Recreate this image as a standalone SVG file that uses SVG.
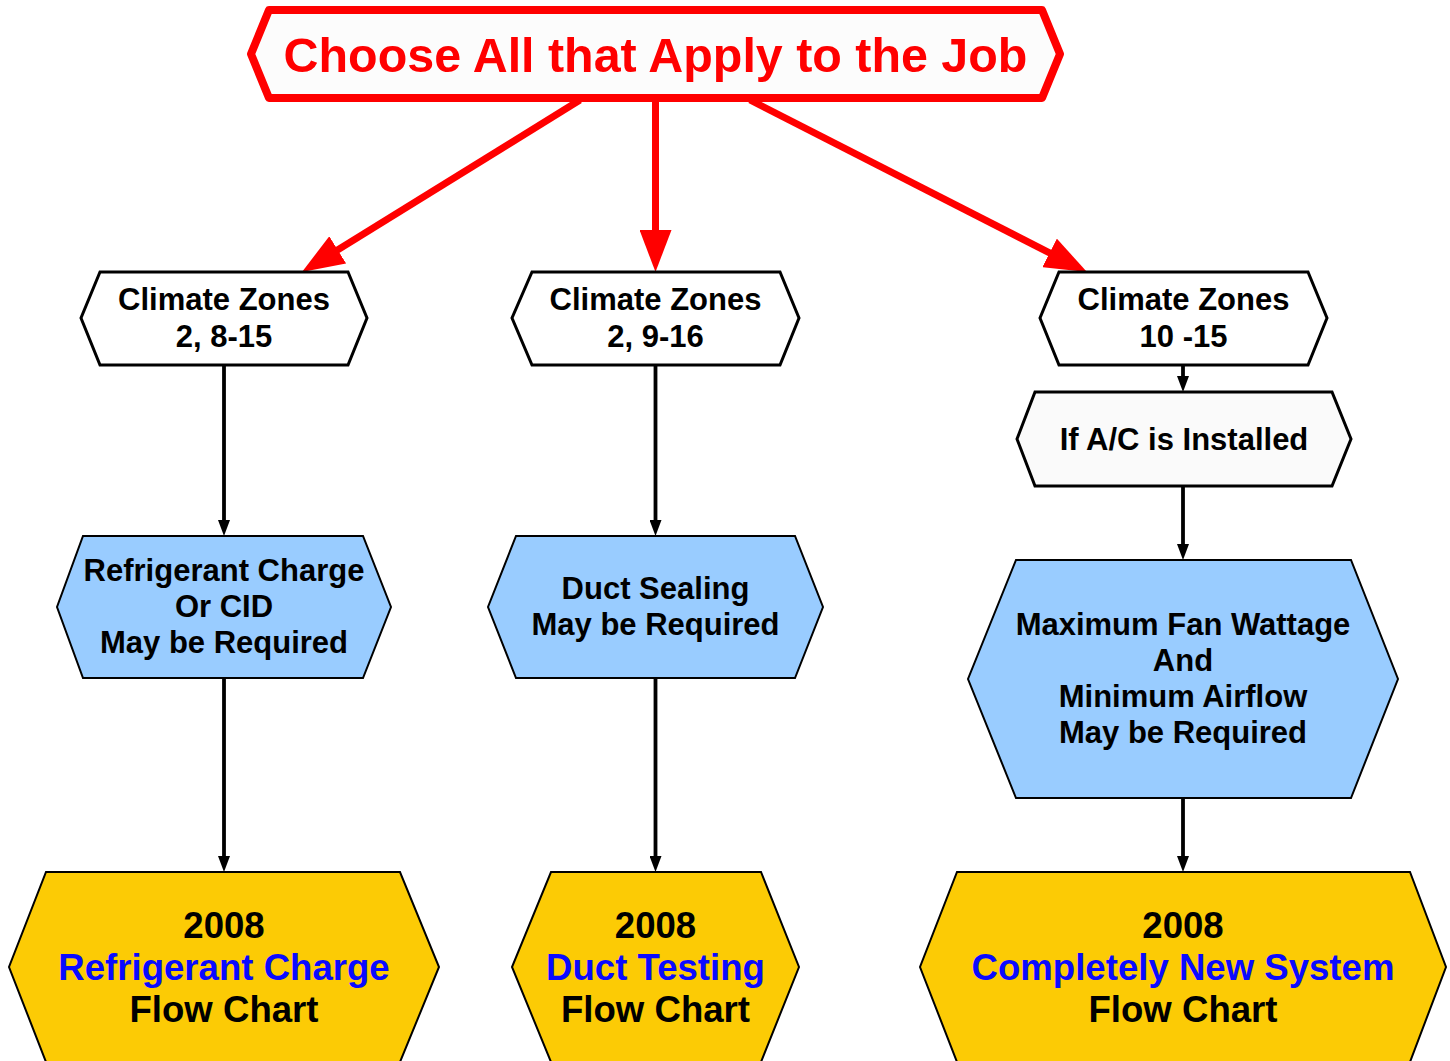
<svg xmlns="http://www.w3.org/2000/svg" width="1450" height="1061" viewBox="0 0 1450 1061">
<defs>
<style>
.t{font-family:"Liberation Sans",Arial,Helvetica,sans-serif;font-weight:bold;text-anchor:middle}
.s{font-size:31px;fill:#000}
.y{font-size:36.6px;fill:#000}
.b{fill:#0a0aff}
.w{fill:#fff;stroke:#000;stroke-width:3;stroke-linejoin:miter}
.g{fill:#fafafa;stroke:#000;stroke-width:3}
.bl{fill:#99ccff;stroke:#000;stroke-width:2}
.ye{fill:#fccb05;stroke:#000;stroke-width:2}
.rc{stroke:#ff0000;stroke-width:7;fill:none}
.kc{stroke:#000;stroke-width:3.8;fill:none}
</style>
<marker id="ra" viewBox="0 0 42 32" markerWidth="42" markerHeight="32" refX="20" refY="16" orient="auto" markerUnits="userSpaceOnUse">
<path d="M0,0 L42,16 L0,32 z" fill="#ff0000"/>
</marker>
<marker id="ka" viewBox="0 0 16 12" markerWidth="16" markerHeight="12" refX="8" refY="6" orient="auto" markerUnits="userSpaceOnUse">
<path d="M0,0 L16,6 L0,12 z" fill="#000"/>
</marker>
</defs>
<rect width="1450" height="1061" fill="#fff"/>

<g id="connectors">
<line class="rc" x1="580" y1="100" x2="320.7" y2="260.4" marker-end="url(#ra)"/>
<line class="rc" x1="655.5" y1="100" x2="655.5" y2="250" marker-end="url(#ra)"/>
<line class="rc" x1="750" y1="100" x2="1067.4" y2="262" marker-end="url(#ra)"/>
<line class="kc" x1="224" y1="365" x2="224" y2="528" marker-end="url(#ka)"/>
<line class="kc" x1="224" y1="678" x2="224" y2="864" marker-end="url(#ka)"/>
<line class="kc" x1="655.5" y1="365" x2="655.5" y2="528" marker-end="url(#ka)"/>
<line class="kc" x1="655.5" y1="678" x2="655.5" y2="864" marker-end="url(#ka)"/>
<line class="kc" x1="1183" y1="365" x2="1183" y2="384" marker-end="url(#ka)"/>
<line class="kc" x1="1183" y1="486" x2="1183" y2="552" marker-end="url(#ka)"/>
<line class="kc" x1="1183" y1="798" x2="1183" y2="864" marker-end="url(#ka)"/>
</g>

<g id="top">
<polygon points="269,10 1042,10 1060,54 1042,98 269,98 251,54" fill="#fcfcfc" stroke="#ff0000" stroke-width="8" stroke-linejoin="round"/>
<text class="t" x="655.5" y="72" font-size="48.4" fill="#ff0000">Choose All that Apply to the Job</text>
</g>

<g id="cz1">
<polygon class="w" points="100,272 348,272 367,318 348,365 100,365 81,318"/>
<text class="t s" x="224" y="310">Climate Zones</text>
<text class="t s" x="224" y="347">2, 8-15</text>
</g>
<g id="cz2">
<polygon class="w" points="532,272 780,272 799,318 780,365 532,365 512,318"/>
<text class="t s" x="655.5" y="310">Climate Zones</text>
<text class="t s" x="655.5" y="347">2, 9-16</text>
</g>
<g id="cz3">
<polygon class="w" points="1059,272 1308,272 1327,318 1308,365 1059,365 1040,318"/>
<text class="t s" x="1183.5" y="310">Climate Zones</text>
<text class="t s" x="1183.5" y="347">10 -15</text>
</g>
<g id="ifac">
<polygon class="g" points="1035,392 1332,392 1351,439 1332,486 1035,486 1017,439"/>
<text class="t s" x="1184" y="450">If A/C is Installed</text>
</g>

<g id="req1">
<polygon class="bl" points="83,536 363,536 391,607 363,678 83,678 57,607"/>
<text class="t s" x="224" y="581">Refrigerant Charge</text>
<text class="t s" x="224" y="617">Or CID</text>
<text class="t s" x="224" y="653">May be Required</text>
</g>
<g id="req2">
<polygon class="bl" points="516,536 795,536 823,607 795,678 516,678 488,607"/>
<text class="t s" x="655.5" y="599">Duct Sealing</text>
<text class="t s" x="655.5" y="635">May be Required</text>
</g>
<g id="req3">
<polygon class="bl" points="1016,560 1351,560 1398,679 1351,798 1016,798 968,679"/>
<text class="t s" x="1183" y="635">Maximum Fan Wattage</text>
<text class="t s" x="1183" y="671">And</text>
<text class="t s" x="1183" y="707">Minimum Airflow</text>
<text class="t s" x="1183" y="743">May be Required</text>
</g>

<g id="fc1">
<polygon class="ye" points="46,872 400,872 439,967 400,1062 46,1062 9,967"/>
<text class="t y" x="224" y="938">2008</text>
<text class="t y b" x="224" y="980">Refrigerant Charge</text>
<text class="t y" x="224" y="1022">Flow Chart</text>
</g>
<g id="fc2">
<polygon class="ye" points="551,872 761,872 799,967 761,1062 551,1062 512,967"/>
<text class="t y" x="655.5" y="938">2008</text>
<text class="t y b" x="655.5" y="980">Duct Testing</text>
<text class="t y" x="655.5" y="1022">Flow Chart</text>
</g>
<g id="fc3">
<polygon class="ye" points="957,872 1410,872 1446,967 1410,1062 957,1062 920,967"/>
<text class="t y" x="1183" y="938">2008</text>
<text class="t y b" x="1183" y="980">Completely New System</text>
<text class="t y" x="1183" y="1022">Flow Chart</text>
</g>
</svg>
